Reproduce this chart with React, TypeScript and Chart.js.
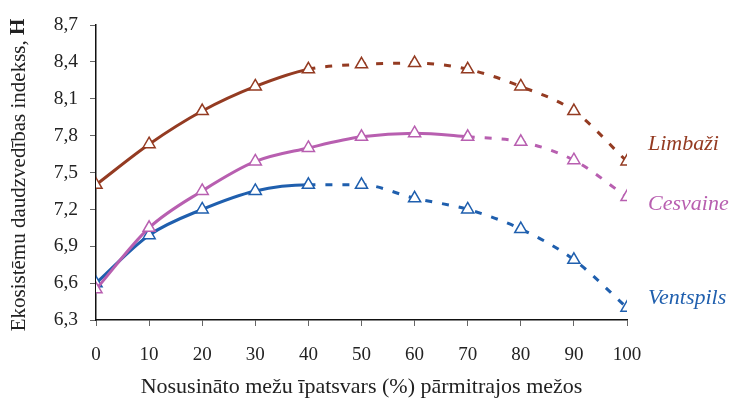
import React, { useEffect, useRef } from "react";
import { Chart, registerables } from "chart.js";

Chart.register(...registerables);

const xValues = [0, 10, 20, 30, 40, 50, 60, 70, 80, 90, 100];
const limbazi = [7.4, 7.73, 8.0, 8.2, 8.34, 8.38, 8.39, 8.34, 8.2, 8.0, 7.59];
const cesvaine = [6.55, 7.05, 7.35, 7.59, 7.7, 7.79, 7.82, 7.79, 7.75, 7.6, 7.3];
const ventspils = [6.6, 6.99, 7.2, 7.35, 7.4, 7.4, 7.29, 7.2, 7.04, 6.79, 6.4];
const seriesNames = ["Limbaži", "Cesvaine", "Ventspils"];
const solidUntil = [40, 70, 40];
const yTitle = "Ekosistēmu daudzvedības indekss, ";
const yTitleBold = "H";
const xTitle = "Nosusināto mežu īpatsvars (%) pārmitrajos mežos";

const colors = ["#943b22", "#b85fb0", "#1f5fae"];
const labelOffsets = [-17, 7, -9];
const SERIF = "'Liberation Serif', 'Times New Roman', serif";

export default function App() {
  const ref = useRef<HTMLCanvasElement>(null);
  useEffect(() => {
    if (!ref.current) return;
    const all = [limbazi, cesvaine, ventspils];
    const labelPlugin = {
      id: "labels",
      afterDatasetsDraw(chart: any) {
        const ctx = chart.ctx;
        const xs = chart.scales.x;
        const ys = chart.scales.y;
        ctx.save();
        ctx.font = `italic 22px ${SERIF}`;
        ctx.textBaseline = "middle";
        ctx.textAlign = "left";
        all.forEach((d, i) => {
          const last = d.length - 1;
          ctx.fillStyle = colors[i];
          ctx.fillText(seriesNames[i], xs.getPixelForValue(xValues[last]) + 21, ys.getPixelForValue(d[last]) + labelOffsets[i]);
        });
        // y title
        const cy = 175;
        ctx.translate(19, cy);
        ctx.rotate(-Math.PI / 2);
        ctx.fillStyle = "#222";
        ctx.font = `21px ${SERIF}`;
        const w1 = ctx.measureText(yTitle).width;
        ctx.font = `bold 21px ${SERIF}`;
        const w2 = ctx.measureText(yTitleBold).width;
        const start = -(w1 + w2) / 2;
        ctx.font = `21px ${SERIF}`;
        ctx.fillText(yTitle, start, 0);
        ctx.font = `bold 21px ${SERIF}`;
        ctx.fillText(yTitleBold, start + w1, 0);
        ctx.restore();
      },
    };
    const chart = new Chart(ref.current, {
      type: "line",
      data: {
        datasets: all.map((d, i) => ({
          label: seriesNames[i],
          data: d.map((v, j) => ({ x: xValues[j], y: v })),
          borderColor: colors[i],
          borderWidth: 3,
          pointStyle: "triangle",
          pointRadius: 7,
          pointBorderWidth: 1.5,
          pointBackgroundColor: "#ffffff",
          pointBorderColor: colors[i],
          cubicInterpolationMode: "monotone",
          segment: {
            borderDash: (c: any) => (xValues[c.p0DataIndex] >= solidUntil[i] ? [7, 10] : undefined),
          },
        })),
      },
      options: {
        animation: false,
        responsive: false,
        maintainAspectRatio: false,
        layout: { padding: { top: 25, right: 102, left: 0, bottom: 0 } },
        plugins: { legend: { display: false }, tooltip: { enabled: false } },
        scales: {
          x: {
            type: "linear",
            min: 0,
            max: 100,
            afterFit: (s: any) => { s.height = 84; },
            ticks: { stepSize: 10, color: "#222", font: { family: SERIF, size: 19 }, padding: 18, maxRotation: 0 },
            grid: { display: true, drawOnChartArea: false, tickLength: 6, color: "#666", tickWidth: 1 },
            border: { color: "#111", width: 1.5 },
            title: { display: true, text: xTitle, color: "#222", font: { family: SERIF, size: 22 }, padding: { top: 12 } },
          },
          y: {
            min: 6.3,
            max: 8.7,
            afterFit: (s: any) => { s.width = 96; },
            ticks: {
              stepSize: 0.3,
              color: "#222",
              font: { family: SERIF, size: 19.5 },
              padding: 12,
              callback: (v: any) => Number(v).toFixed(1).replace(".", ","),
            },
            grid: { display: true, drawOnChartArea: false, tickLength: 6, color: "#666" },
            border: { color: "#111", width: 1.5 },
          },
        },
      },
      plugins: [labelPlugin],
    });
    return () => chart.destroy();
  }, []);
  return (
    <div style={{ position: "fixed", left: 0, top: 0, width: 729, height: 404, background: "#fff" }}>
      <canvas ref={ref} width={729} height={404} style={{ width: 729, height: 404 }} />
    </div>
  );
}
